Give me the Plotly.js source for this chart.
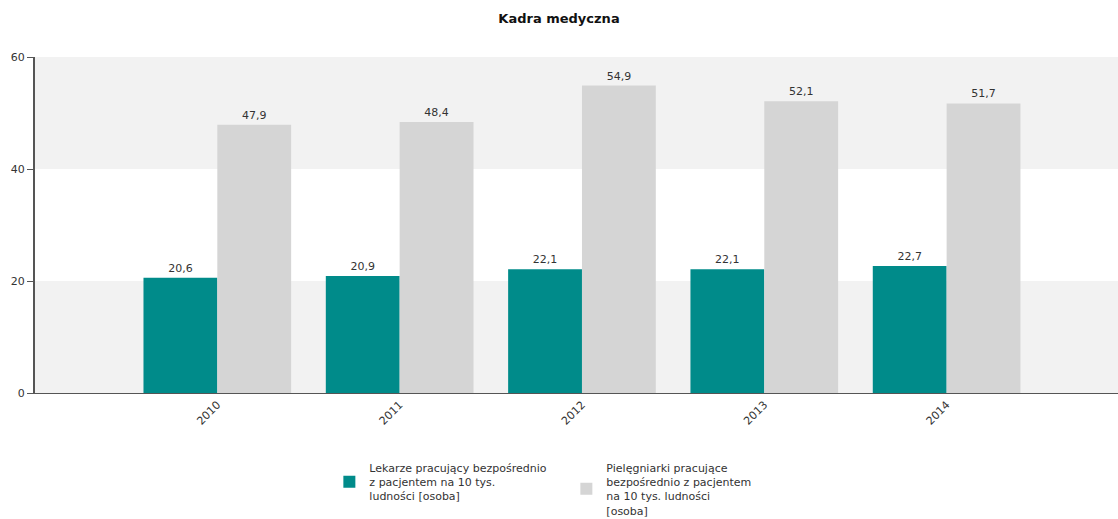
<!DOCTYPE html>
<html><head><meta charset="utf-8">
<script src="https://cdn.plot.ly/plotly-3.0.1.min.js"></script>
<style>html,body{margin:0;padding:0;background:#fff}#chart{width:1118px;height:519px}</style>
</head><body><div id="chart"></div>
<script>
const years = ['2010','2011','2012','2013','2014'];
const lekarze = [20.6, 20.9, 22.1, 22.1, 22.7];
const pielegniarki = [47.9, 48.4, 54.9, 52.1, 51.7];
const seriesNames = [
  'Lekarze pracujący bezpośrednio<br>z pacjentem na 10 tys.<br>ludności [osoba]',
  'Pielęgniarki pracujące<br>bezpośrednio z pacjentem<br>na 10 tys. ludności<br>[osoba]'
];
const yTicks = [0, 20, 40, 60];

const font = 'DejaVu Sans, Verdana, sans-serif';
const traces = [
  {type:'bar', x: years, y: lekarze, name: seriesNames[0], marker:{color:'#008b8a'},
   text: lekarze, texttemplate:'%{y:.1f}', textposition:'outside', cliponaxis:false,
   textfont:{family:font,size:11,color:'#333'}, hoverinfo:'y'},
  {type:'bar', x: years, y: pielegniarki, name: seriesNames[1], marker:{color:'#d5d5d5'},
   text: pielegniarki, texttemplate:'%{y:.1f}', textposition:'outside', cliponaxis:false,
   textfont:{family:font,size:11,color:'#333'}, hoverinfo:'y'}
];

const shapes = [];
for (let i = 0; i + 1 < yTicks.length; i += 2) {
  shapes.push({type:'rect', xref:'paper', yref:'y', x0:0, x1:1, y0:yTicks[i], y1:yTicks[i+1],
    fillcolor:'#f2f2f2', line:{width:0}, layer:'below'});
}
shapes.push({type:'rect', xref:'paper', yref:'y', x0:0, x1:1, y0:yTicks[2], y1:yTicks[3],
  fillcolor:'#f2f2f2', line:{width:0}, layer:'below'});

const layout = {
  width:1118, height:519,
  margin:{l:35, r:0, t:57, b:126},
  paper_bgcolor:'#fff', plot_bgcolor:'#fff',
  separators:', ',
  font:{family:font, size:11, color:'#333'},
  title:{text:'<b>Kadra medyczna</b>', x:0.5, xanchor:'center', y:0.973, yanchor:'top',
         font:{family:font, size:13, color:'#111'}},
  barmode:'group', bargap:0.19, bargroupgap:0,
  xaxis:{type:'category', range:[-1, 4.94], tickangle:-45, showgrid:false,
         showline:true, linecolor:'#555', linewidth:1, ticks:'', tickfont:{family:font,size:11,color:'#333'},
         automargin:false},
  yaxis:{range:[0,60], tickvals:yTicks, showgrid:false, zeroline:false, showline:true,
         linecolor:'#555', linewidth:2, ticks:'outside', ticklen:6, tickcolor:'#555',
         tickfont:{family:font,size:11,color:'#333'}, automargin:false, fixedrange:true},
  shapes: shapes,
  showlegend:true,
  legend:{orientation:'h', xref:'container', yref:'container', x:0.2946, xanchor:'left', y:0.1258, yanchor:'top',
          font:{family:font,size:11,color:'#333'}, bgcolor:'rgba(0,0,0,0)', traceorder:'normal',
          itemwidth:30, valign:'middle', entrywidth:192}
};
Plotly.newPlot('chart', traces, layout, {displayModeBar:false, staticPlot:true});
</script></body></html>
